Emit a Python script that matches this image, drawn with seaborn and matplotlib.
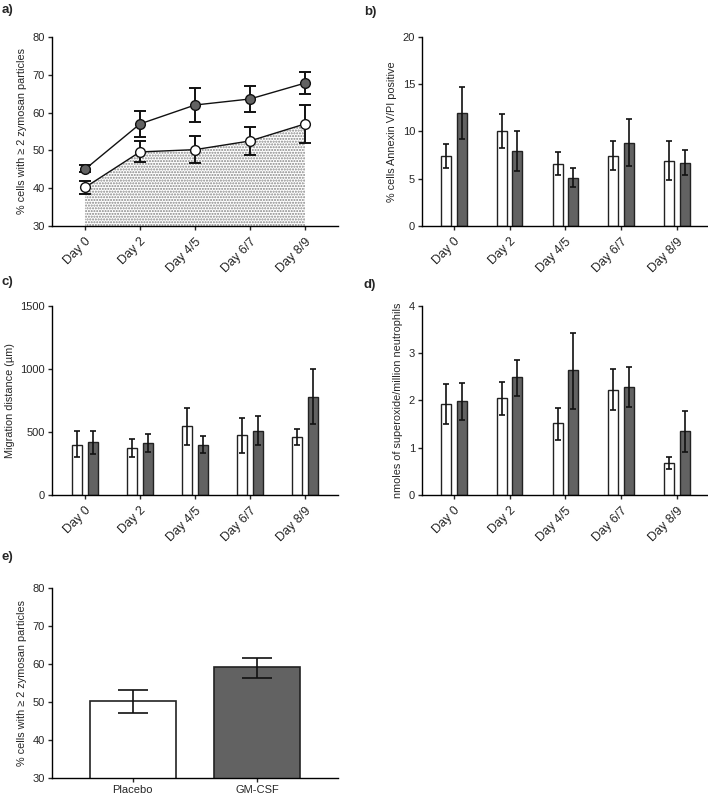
import numpy as np
import pandas as pd
import seaborn as sns
import matplotlib
matplotlib.use('Agg')
import matplotlib.pyplot as plt
from matplotlib import font_manager

days = ['Day 0', 'Day 2', 'Day 4/5', 'Day 6/7', 'Day 8/9']
groups = ['Placebo', 'GM-CSF']

# a) % cells with >= 2 zymosan particles over time (mean, error bar low / high)
a_placebo = [40.2, 49.6, 50.2, 52.5, 57.0]
a_placebo_lo = [38.5, 46.8, 46.7, 48.8, 52.0]
a_placebo_hi = [42.0, 52.5, 53.7, 56.1, 62.0]
a_gmcsf = [45.0, 57.0, 62.0, 63.6, 67.8]
a_gmcsf_lo = [44.2, 53.5, 57.5, 60.2, 64.9]
a_gmcsf_hi = [46.1, 60.3, 66.4, 67.1, 70.8]

# b) annexin V / PI positive
b_placebo = [7.4, 10.1, 6.6, 7.4, 6.9]
b_placebo_lo = [6.1, 8.3, 5.4, 5.9, 4.9]
b_placebo_hi = [8.7, 11.9, 7.8, 9.0, 9.0]
b_gmcsf = [12.0, 7.9, 5.1, 8.8, 6.7]
b_gmcsf_lo = [9.2, 5.8, 4.1, 6.4, 5.4]
b_gmcsf_hi = [14.7, 10.0, 6.1, 11.3, 8.0]

# c) migration distance (um)
c_placebo = [400, 375, 545, 475, 460]
c_placebo_lo = [300, 300, 400, 335, 400]
c_placebo_hi = [505, 445, 690, 610, 520]
c_gmcsf = [420, 415, 400, 510, 780]
c_gmcsf_lo = [325, 345, 330, 395, 565]
c_gmcsf_hi = [505, 480, 465, 625, 1000]

# d) superoxide
d_placebo = [1.93, 2.05, 1.52, 2.23, 0.68]
d_placebo_lo = [1.50, 1.70, 1.17, 1.79, 0.56]
d_placebo_hi = [2.34, 2.40, 1.85, 2.67, 0.81]
d_gmcsf = [1.98, 2.49, 2.64, 2.29, 1.35]
d_gmcsf_lo = [1.58, 2.10, 1.83, 1.86, 0.91]
d_gmcsf_hi = [2.37, 2.86, 3.43, 2.71, 1.77]

# e) overall phagocytosis
e_values = [50.2, 59.1]
e_lo = [47.0, 56.4]
e_hi = [53.2, 61.7]

WHITE = '#ffffff'
DARK = '#626262'
EDGE = '#222222'

sns.set_style('ticks')
names = {f.name for f in font_manager.fontManager.ttflist}
narrow = 'Liberation Sans Narrow' if 'Liberation Sans Narrow' in names else 'Liberation Sans'
plt.rcParams['font.family'] = ['Liberation Sans', 'DejaVu Sans']
plt.rcParams['axes.linewidth'] = 1.0
plt.rcParams['xtick.major.width'] = 1.0
plt.rcParams['ytick.major.width'] = 1.0
plt.rcParams['xtick.major.size'] = 3
plt.rcParams['ytick.major.size'] = 3
plt.rcParams['xtick.labelsize'] = 8
plt.rcParams['ytick.labelsize'] = 8
plt.rcParams['axes.labelsize'] = 7.8


def style_axis(ax, ylabel, ylim, yticks):
    ax.set_ylim(*ylim)
    ax.set_yticks(yticks)
    ax.set_ylabel(ylabel, labelpad=4)
    ax.set_xlabel('')
    ax.spines['left'].set_color('black')
    ax.spines['bottom'].set_color('black')
    sns.despine(ax=ax)
    ax.tick_params(axis='y', pad=2)


def day_labels(ax):
    ax.set_xticks(np.arange(len(days)))
    ax.set_xticklabels(days, rotation=45, ha='right', rotation_mode='anchor',
                       family=narrow, fontsize=9)
    ax.tick_params(axis='x', pad=4)


def grouped_bars(ax, placebo, placebo_lo, placebo_hi, gmcsf, gmcsf_lo, gmcsf_hi):
    df = pd.DataFrame({'day': days * 2,
                       'group': [groups[0]] * len(days) + [groups[1]] * len(days),
                       'value': placebo + gmcsf})
    sns.barplot(data=df, x='day', y='value', hue='group', order=days, hue_order=groups,
                palette=[WHITE, DARK], saturation=1, width=0.56, gap=0.36,
                errorbar=None, edgecolor=EDGE, linewidth=1, legend=False, ax=ax)
    for cont, lo, hi in zip(ax.containers, [placebo_lo, gmcsf_lo], [placebo_hi, gmcsf_hi]):
        xs = [p.get_x() + p.get_width() / 2 for p in cont]
        ys = np.array([p.get_height() for p in cont])
        ax.errorbar(xs, ys, yerr=[ys - np.array(lo), np.array(hi) - ys], fmt='none',
                    ecolor='#111111', elinewidth=1.2, capsize=2.2, capthick=1.2, zorder=3)


fig = plt.figure(figsize=(7.08, 7.95), dpi=100)

ax_a = fig.add_axes([0.0734, 0.7157, 0.404, 0.2378])
ax_b = fig.add_axes([0.596, 0.7157, 0.4026, 0.2378])
ax_c = fig.add_axes([0.0734, 0.3774, 0.404, 0.2377])
ax_d = fig.add_axes([0.596, 0.3774, 0.4026, 0.2377])
ax_e = fig.add_axes([0.0734, 0.0214, 0.404, 0.239])

# a) line chart with stippled area under placebo
x = np.arange(len(days))
ax_a.fill_between(x, 30, a_placebo, facecolor='white', edgecolor='#858585',
                  hatch='......', linewidth=0, zorder=1)
for vals, lo, hi, face in [(a_placebo, a_placebo_lo, a_placebo_hi, WHITE),
                           (a_gmcsf, a_gmcsf_lo, a_gmcsf_hi, DARK)]:
    vals = np.array(vals)
    ax_a.errorbar(x, vals, yerr=[vals - np.array(lo), np.array(hi) - vals], fmt='none',
                  ecolor='#111111', elinewidth=1.4, capsize=4.5, capthick=1.4, zorder=2)
    sns.lineplot(x=x, y=vals, color='#111111', linewidth=1.0, marker='o', markersize=7,
                 markerfacecolor=face, markeredgecolor='#111111', markeredgewidth=1.0,
                 ax=ax_a, zorder=3)
ax_a.set_xlim(-0.6, 4.6)
style_axis(ax_a, '% cells with \u2265 2 zymosan particles', (30, 80), [30, 40, 50, 60, 70, 80])
day_labels(ax_a)

# b)
grouped_bars(ax_b, b_placebo, b_placebo_lo, b_placebo_hi, b_gmcsf, b_gmcsf_lo, b_gmcsf_hi)
ax_b.set_xlim(-0.57, 4.54)
style_axis(ax_b, '% cells Annexin V/PI positive', (0, 20), [0, 5, 10, 15, 20])
day_labels(ax_b)

# c)
grouped_bars(ax_c, c_placebo, c_placebo_lo, c_placebo_hi, c_gmcsf, c_gmcsf_lo, c_gmcsf_hi)
ax_c.set_xlim(-0.6, 4.6)
style_axis(ax_c, 'Migration distance (\u00b5m)', (0, 1500), [0, 500, 1000, 1500])
day_labels(ax_c)

# d)
grouped_bars(ax_d, d_placebo, d_placebo_lo, d_placebo_hi, d_gmcsf, d_gmcsf_lo, d_gmcsf_hi)
ax_d.set_xlim(-0.57, 4.54)
style_axis(ax_d, 'nmoles of superoxide/million neutrophils', (0, 4), [0, 1, 2, 3, 4])
day_labels(ax_d)

# e)
sns.barplot(x=groups, y=e_values, hue=groups, palette=[WHITE, DARK], saturation=1,
            width=0.69, errorbar=None, edgecolor=EDGE, linewidth=1.2, legend=False, ax=ax_e)
xs_e = [p.get_x() + p.get_width() / 2 for p in ax_e.patches]
ys_e = np.array(e_values)
ax_e.errorbar(xs_e, ys_e, yerr=[ys_e - np.array(e_lo), np.array(e_hi) - ys_e], fmt='none',
              ecolor='#111111', elinewidth=1.2, capsize=11, capthick=1.2, zorder=3)
ax_e.set_xlim(-0.65, 1.65)
style_axis(ax_e, '% cells with \u2265 2 zymosan particles', (30, 80), [30, 40, 50, 60, 70, 80])
ax_e.tick_params(axis='x', pad=2)

# panel letters
for label, lx, ly in [('a)', 0.002, 0.987), ('b)', 0.514, 0.985), ('c)', 0.002, 0.645),
                      ('d)', 0.514, 0.641), ('e)', 0.002, 0.299)]:
    fig.text(lx, ly, label, fontsize=9.5, fontweight='bold', family=narrow, va='center', ha='left')

fig.savefig('out.png', dpi=100)
